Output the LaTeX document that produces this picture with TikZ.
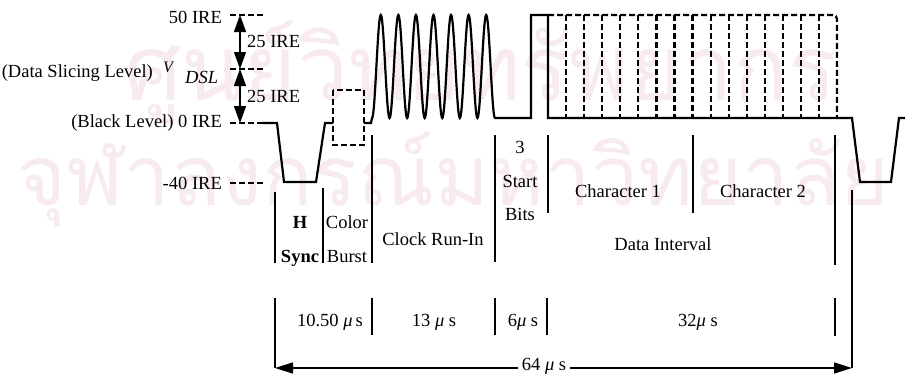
\documentclass[tikz,border=0pt]{standalone}
\usepackage{fontspec}
\setmainfont{Liberation Serif}
\newfontfamily\thaifont[Script=Thai]{Loma}
\usetikzlibrary{arrows.meta}
\definecolor{wmpink}{RGB}{247,234,241}
\begin{document}
\begin{tikzpicture}[x=1pt,y=-1pt,
  wave/.style={line width=2.2pt, line join=miter},
  dsh/.style={line width=2.2pt, dash pattern=on 6pt off 3pt},
  tk/.style={line width=1.6pt},
  lbl/.style={inner sep=0pt, font=\fontsize{18.5}{20}\selectfont},
  wmark/.style={inner sep=0pt, text=wmpink},
  dbl/.style={line width=1.2pt, {Triangle[length=17pt,width=12pt]}-{Triangle[length=17pt,width=12pt]}},
  tip/.style={line width=1.6pt, -{Triangle[length=18pt,width=11pt]}}
]
\useasboundingbox (0,0) rectangle (905,375);

% watermark
\node[wmark, anchor=base west] (wm1) at (124,100) {\resizebox{713pt}{!}{\thaifont ศูนย์วิทยทรัพยากร}};
\node[wmark, anchor=base west] (wm2) at (17,205) {\resizebox{872pt}{!}{\thaifont จุฬาลงกรณ์มหาวิทยาลัย}};

% level labels
\node[lbl, anchor=base east] (l50) at (222,23) {50 IRE};
\node[lbl, anchor=base east] (ldsl) at (153,77) {(Data Slicing Level)};
\node[lbl, anchor=base west, font=\fontsize{16}{18}\selectfont\itshape] (lV) at (163,72) {V};
\node[lbl, anchor=base west, font=\fontsize{18.5}{20}\selectfont\itshape] (lDSL) at (185,83) {DSL};
\node[lbl, anchor=base east] (l0) at (222,127) {(Black Level) 0 IRE};
\node[lbl, anchor=base east] (l40) at (222,189) {-40 IRE};
\node[lbl, anchor=base west] (l25a) at (247,47) {25 IRE};
\node[lbl, anchor=base west] (l25b) at (247,102) {25 IRE};

% level reference dashes
\draw[dsh] (230,15) -- (265,15);
\draw[dsh] (230,69) -- (265,69);
\draw[dsh] (230,123) -- (262,123);
\draw[dsh] (230,183) -- (265,183);

% 25 IRE arrows
\coordinate (a50) at (240,15);
\coordinate (aD) at (240,69);
\coordinate (a0) at (240,123);
\draw[dbl] (a50) -- (aD);
\draw[dbl] (aD) -- (a0);

% waveform
\draw[wave] (262,123) -- (277,123) -- (284,182) -- (316,182) -- (325,123) -- (333,123);
\draw[dsh] (333,90) rectangle (364,145);
\draw[wave] (364,123) -- (371,123) -- plot[domain=0:7, samples=281] ({372+17.57*\x},{118-51.5*(1-cos(360*\x))})
  -- (531,118) -- (531,15) -- (548,15) -- (548,118) -- (852,118) -- (860,182) -- (891,182) -- (899,118) -- (905,118);
\foreach \k in {1,...,15} \draw[dsh] ({548+18.07*\k},15) -- ({548+18.07*\k},118);
\draw[dsh, rounded corners=4pt] (548,15) -- (837,15) -- (837,118);

% section dividers
\draw[tk] (275,192) -- (275,263);
\draw[tk] (323,188) -- (323,263);
\draw[tk] (372,135) -- (372,263);
\draw[tk] (495,135) -- (495,262);
\draw[tk] (548,135) -- (548,213);
\draw[tk] (693,135) -- (693,213);
\draw[tk] (835,135) -- (835,265);

% section labels
\node[lbl, anchor=base, font=\fontsize{18.5}{20}\selectfont\bfseries] (tH) at (300,228) {H};
\node[lbl, anchor=base, font=\fontsize{18.5}{20}\selectfont\bfseries] (tSync) at (300,262) {Sync};
\node[lbl, anchor=base] (tColor) at (347,228) {Color};
\node[lbl, anchor=base] (tBurst) at (347,262) {Burst};
\node[lbl, anchor=base] (tClock) at (433,245) {Clock Run-In};
\node[lbl, anchor=base] (t3) at (520,153) {3};
\node[lbl, anchor=base] (tStart) at (520,187) {Start};
\node[lbl, anchor=base] (tBits) at (520,220) {Bits};
\node[lbl, anchor=base] (tC1) at (618,197) {Character 1};
\node[lbl, anchor=base] (tC2) at (763,197) {Character 2};
\node[lbl, anchor=base] (tDI) at (663,250) {Data Interval};

% timing row
\draw[tk] (372,298) -- (372,335);
\draw[tk] (495,298) -- (495,335);
\draw[tk] (547,298) -- (547,335);
\draw[tk] (835,298) -- (835,336);
\node[lbl, anchor=base] (d1) at (330,326) {10.50 \textit{μ}\,s};
\node[lbl, anchor=base] (d2) at (434,326) {13 \textit{μ} s};
\node[lbl, anchor=base] (d3) at (523,326) {6\textit{μ} s};
\node[lbl, anchor=base] (d4) at (698,326) {32\textit{μ} s};

% 64 us span
\coordinate (aL) at (275,368);
\coordinate (aR) at (852,368);
\draw[tk] (275,298) -- (aL);
\draw[tk] (852,190) -- (aR);
\node[lbl, anchor=base, inner xsep=4pt] (t64) at (544,370.5) {64 \textit{μ} s};
\draw[tip] (t64.west |- aL) -- (aL);
\draw[tip] (t64.east |- aR) -- (aR);
\end{tikzpicture}
\end{document}
